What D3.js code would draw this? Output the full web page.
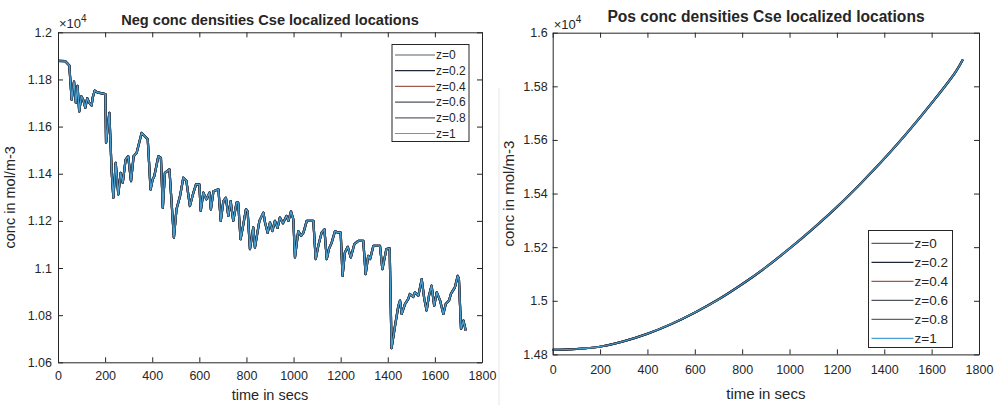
<!DOCTYPE html>
<html>
<head>
<meta charset="utf-8">
<script src="https://cdn.jsdelivr.net/npm/d3@7"></script>
<style>
  html, body { margin: 0; padding: 0; background: #fff; }
  svg { display: block; }
  text { font-family: "Liberation Sans", Arial, Helvetica, sans-serif; fill: #262626; }
</style>
</head>
<body>
<svg id="chart" width="997" height="405"></svg>
<script>
// ---------------- data ----------------
const timeTicks = [0, 200, 400, 600, 800, 1000, 1200, 1400, 1600, 1800];
const negYTicks = [10600, 10800, 11000, 11200, 11400, 11600, 11800, 12000];
const posYTicks = [14800, 15000, 15200, 15400, 15600, 15800, 16000];
const seriesLabels = ["z=0", "z=0.2", "z=0.4", "z=0.6", "z=0.8", "z=1"];
const seriesColors = ["#56606b", "#1d2738", "#a25a4c", "#4f5661", "#5c646c", "#4aa2d4"];

// all six z-locations overlap in the picture, so they share these readings
const negTime = [0,30,48,58,68,76,83,90,99,107,116,124,133,143,147,156,167,201,204,218,228,235,245,256,266,275,287,298,310,321,334,355,372,381,393,402,409,426,437,445,454,473,492,503,518,532,545,560,575,586,600,606,617,630,643,649,660,681,691,702,713,723,733,744,758,765,775,787,798,805,815,829,836,855,872,879,890,900,910,921,932,942,955,970,978,989,999,1006,1020,1032,1042,1056,1084,1094,1105,1119,1131,1141,1150,1162,1176,1187,1200,1208,1218,1230,1243,1258,1275,1296,1306,1317,1325,1339,1367,1377,1394,1408,1416,1431,1445,1452,1459,1473,1487,1494,1508,1515,1530,1544,1555,1565,1575,1586,1597,1608,1622,1636,1646,1660,1668,1685,1697,1702,1711,1721,1731];
const negConc = [11879,11878,11859,11714,11791,11700,11773,11664,11728,11714,11680,11720,11700,11690,11722,11753,11745,11738,11531,11658,11404,11298,11446,11312,11404,11362,11460,11474,11369,11474,11489,11573,11556,11545,11333,11376,11390,11474,11467,11255,11404,11418,11129,11249,11305,11383,11370,11263,11320,11355,11355,11242,11320,11291,11320,11249,11326,11334,11200,11284,11298,11221,11284,11200,11277,11277,11122,11186,11250,11240,11080,11172,11087,11200,11235,11193,11150,11193,11157,11200,11170,11214,11190,11221,11200,11240,11207,11045,11157,11136,11150,11200,11200,11038,11094,11150,11164,11038,11080,11108,11157,11150,11150,10967,11066,11090,11045,11101,11115,11115,10974,11052,11038,11094,11094,10995,11080,11083,10660,10756,10840,10862,10805,10847,10869,10890,10877,10897,10883,10953,10869,10820,10883,10925,10840,10897,10862,10805,10847,10862,10890,10918,10967,10953,10742,10777,10735];

const posTime = [0,100,200,300,400,500,600,700,800,900,1000,1100,1200,1300,1400,1500,1600,1700,1732];
const posConc = [14817,14820,14829,14849,14877,14913,14956,15005,15062,15125,15195,15270,15350,15437,15530,15630,15737,15852,15900];

// ---------------- drawing ----------------
const svg = d3.select("#chart");
const fmtY = v => String(+(v / 1e4).toFixed(2));
const fmtX = d3.format("d");

function panel(o) {
  const g = svg.append("g");
  const x = d3.scaleLinear().domain([0, 1800]).range([o.left, o.right]);
  const y = d3.scaleLinear().domain(o.yDomain).range([o.bottom, o.top]);
  const tick = 5;

  // data lines (dark series underneath, light z=1 on top)
  const line = d3.line().x((d, i) => x(o.time[i])).y(d => y(d)).curve(o.curve);
  const order = [2, 0, 3, 4, 1, 5];
  order.forEach(k => {
    g.append("path")
      .attr("d", line(o.values))
      .attr("fill", "none")
      .attr("stroke", seriesColors[k])
      .attr("stroke-width", k === 5 ? o.lightW : o.darkW)
      .attr("stroke-linejoin", "round");
  });

  // axes (inward ticks, MATLAB-style box)
  const ax = (axis, tr) => {
    const a = g.append("g").attr("transform", tr).call(axis);
    a.select(".domain").attr("stroke", "#262626");
    a.selectAll(".tick line").attr("stroke", "#262626");
    a.selectAll("text").style("font-size", o.tickFs + "px").attr("fill", "#262626")
      .style("font-family", '"Liberation Sans", Arial, sans-serif');
    return a;
  };
  ax(d3.axisBottom(x).tickValues(timeTicks).tickSizeInner(-tick).tickSizeOuter(0).tickPadding(o.xPad).tickFormat(fmtX),
     `translate(0,${o.bottom})`);
  ax(d3.axisTop(x).tickValues(timeTicks).tickSizeInner(-tick).tickSizeOuter(0).tickFormat(""),
     `translate(0,${o.top})`);
  ax(d3.axisLeft(y).tickValues(o.yTicks).tickSizeInner(-tick).tickSizeOuter(0).tickPadding(o.yPad).tickFormat(fmtY),
     `translate(${o.left},0)`);
  ax(d3.axisRight(y).tickValues(o.yTicks).tickSizeInner(-tick).tickSizeOuter(0).tickFormat(""),
     `translate(${o.right},0)`);

  // exponent
  const ex = g.append("text").attr("x", o.left + 1).attr("y", o.top - 4)
    .style("font-size", "13px");
  ex.append("tspan").text("\u00d710");
  ex.append("tspan").attr("dy", -6).style("font-size", "10px").text("4");

  // title
  g.append("text").attr("x", o.titleX).attr("y", o.titleY).attr("text-anchor", "middle")
    .style("font-size", o.titleFs + "px").style("font-weight", "bold").text(o.title);

  // axis titles
  g.append("text").attr("x", (o.left + o.right) / 2).attr("y", o.xLabelY).attr("text-anchor", "middle")
    .style("font-size", o.labelFs + "px").text("time in secs");
  g.append("text").attr("transform", `translate(${o.yLabelX},${(o.top + o.bottom) / 2}) rotate(-90)`)
    .attr("text-anchor", "middle").style("font-size", o.labelFs + "px").text("conc in mol/m-3");

  // legend
  const L = o.legend;
  const lg = g.append("g");
  lg.append("rect").attr("x", L.x).attr("y", L.y).attr("width", L.w).attr("height", L.h)
    .attr("fill", "#fff").attr("stroke", "#262626").attr("stroke-width", 1);
  seriesLabels.forEach((lab, i) => {
    const yy = L.y + L.first + i * L.step;
    lg.append("line").attr("x1", L.x + L.l1).attr("x2", L.x + L.l2).attr("y1", yy).attr("y2", yy)
      .attr("stroke", seriesColors[i]).attr("stroke-width", 1.2);
    lg.append("text").attr("x", L.x + L.l2 + 1).attr("y", yy).attr("dy", "0.35em")
      .style("font-size", L.fs + "px").text(lab);
  });
}

panel({
  left: 58, right: 482, top: 32.3, bottom: 362.3,
  yDomain: [10600, 12000], yTicks: negYTicks,
  time: negTime, values: negConc, curve: d3.curveLinear,
  darkW: 2.2, lightW: 1.3,
  tickFs: 12.5, xPad: 9, yPad: 6,
  title: "Neg conc densities Cse localized locations", titleX: 270, titleY: 25, titleFs: 14.6,
  xLabelY: 400, yLabelX: 15, labelFs: 14.5,
  legend: { x: 392, y: 44.5, w: 77, h: 97, first: 10.5, step: 15.7, l1: 3, l2: 43, fs: 12 }
});

panel({
  left: 552.7, right: 979, top: 32.7, bottom: 354.4,
  yDomain: [14800, 16000], yTicks: posYTicks,
  time: posTime, values: posConc, curve: d3.curveCatmullRom,
  darkW: 2.0, lightW: 1.1,
  tickFs: 12.5, xPad: 11, yPad: 5,
  title: "Pos conc densities Cse localized locations", titleX: 766, titleY: 22, titleFs: 15.6,
  xLabelY: 399, yLabelX: 514, labelFs: 15,
  legend: { x: 868.5, y: 230.5, w: 84, h: 117, first: 12.8, step: 19, l1: 3, l2: 45, fs: 13.5 }
});

// faint edge of the left figure
svg.append("line").attr("x1", 499).attr("x2", 499).attr("y1", 88).attr("y2", 405)
  .attr("stroke", "#e6e6e6").attr("stroke-width", 1);
</script>
</body>
</html>
